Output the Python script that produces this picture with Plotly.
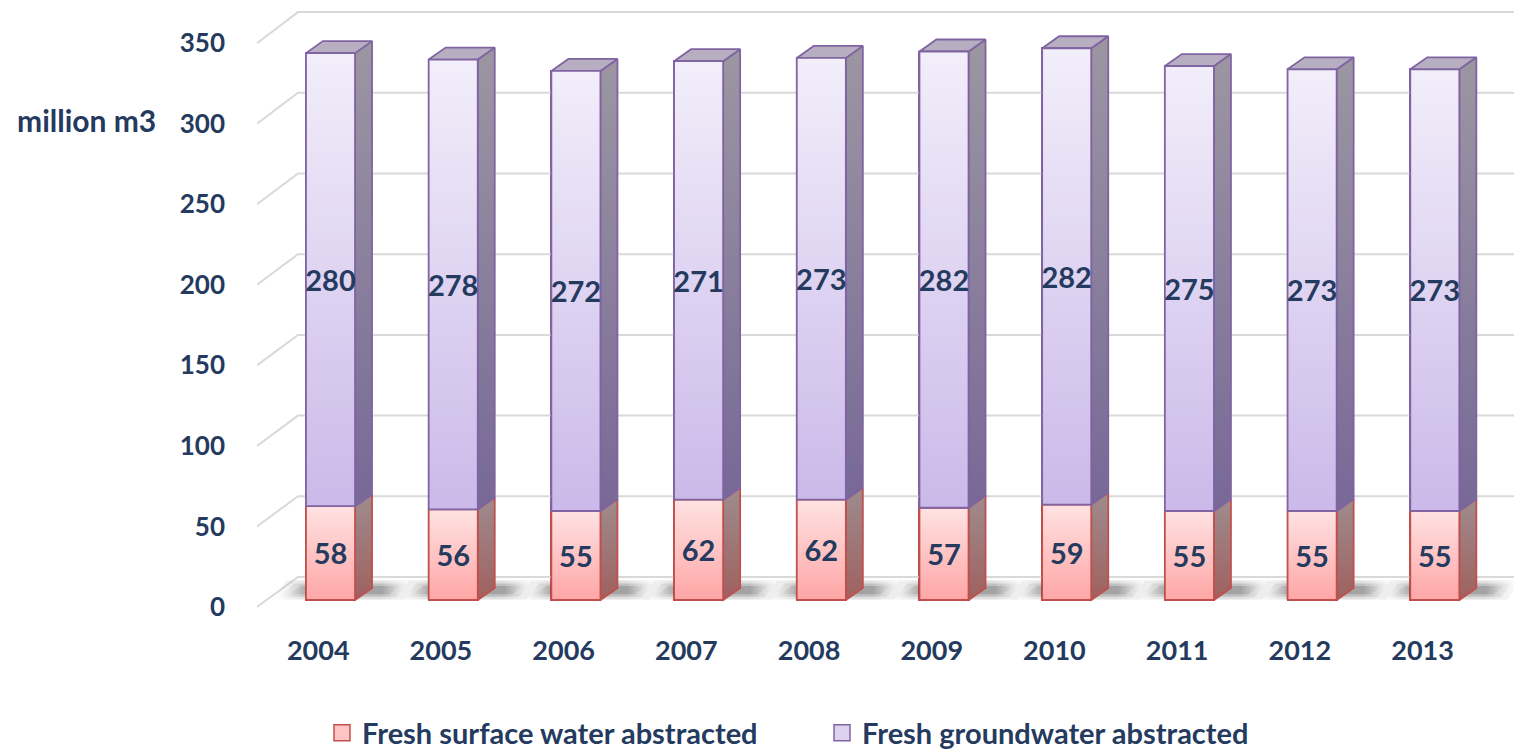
import plotly.graph_objects as go

# ---------------- data ----------------
years = ["2004", "2005", "2006", "2007", "2008", "2009", "2010", "2011", "2012", "2013"]
surface = [58, 56, 55, 62, 62, 57, 59, 55, 55, 55]
ground = [280, 278, 272, 271, 273, 282, 282, 275, 273, 273]
y_ticks = [0, 50, 100, 150, 200, 250, 300, 350]
series_names = ["Fresh surface water abstracted", "Fresh groundwater abstracted"]
unit_label = "million m3"

# ---------------- style ----------------
NAVY = "#243a5e"
FONT = "Lato"
PAGE_OFF = 8                 # page body margin of the browser
SCR_W, SCR_H = 1522, 751
W, H = SCR_W - PAGE_OFF, SCR_H - PAGE_OFF
# plot area in screen pixels
PL, PR, PT, PB = 257, 1522, 8, 621
PX_PER_CAT = 122.7           # pixel distance between categories
X0_PX = 330.5                # screen pixel centre of first category
S = 1.618                    # px per unit on the bar plane
ZERO_PX = 600                # screen pixel of value 0 on the bar plane
S_WALL_F, ZERO_WALL_F = 1.611, 607   # front edge of wall grid
S_WALL_B, ZERO_WALL_B = 1.614, 577   # back wall
BAR_W = 0.4
DX = 17 / PX_PER_CAT         # depth offset (x)
DY = 12 / S                  # depth offset (y)
LABEL_SHIFT = 4 / S          # small downward nudge of the value labels

plot_h = PB - PT
plot_w = PR - PL
ymin = -(PB - ZERO_PX) / S
ymax = (ZERO_PX - PT) / S
xmin = (PL - X0_PX) / PX_PER_CAT
xmax = (PR - X0_PX) / PX_PER_CAT


def plane(v, s, z):
    """convert a value on another depth plane into main y-axis units"""
    return (ZERO_PX - (z - s * v)) / S


styles = [
    dict(line="#c0504d", front=("#ffa6a6", "#ffe2e2"), side=("#a0605f", "#9e8c8e"),
         top="#c7a0a0", legend="#ffc4c4"),
    dict(line="#8064a2", front=("#cbb9e9", "#f2eefa"), side=("#776897", "#9c96a2"),
         top="#b7aec2", legend="#ddd2f0"),
]

n = len(years)
xs = list(range(n))
fig = go.Figure()

# back wall grid lines
for v in y_ticks:
    yf = plane(v, S_WALL_F, ZERO_WALL_F)
    yb = plane(v, S_WALL_B, ZERO_WALL_B)
    fig.add_trace(go.Scatter(
        x=[xmin, xmin + 41 / PX_PER_CAT, xmax], y=[yf, yb, yb], mode="lines",
        line=dict(color="#d9d9d9", width=2), hoverinfo="skip", showlegend=False,
        cliponaxis=False))

# floor shadows: soft band behind each bar, built from stacked translucent layers
shadow_layers = [(0.3, 12.0, 0.16, 0.26), (2.0, 10.2, 0.18, 0.2), (3.6, 8.6, 0.2, 0.14)]
for i in xs:
    for y0, y1, alpha, ext in shadow_layers:
        l = i - BAR_W / 2 - ext
        r = i + BAR_W / 2 + DX + ext
        span = r - l
        a = (i - BAR_W / 2 - l) / span
        b_ = (i + BAR_W / 2 + DX - l) / span
        fig.add_trace(go.Scatter(
            x=[l, r, r + DX * 0.7, l + DX * 0.7, l], y=[y0, y0, y1, y1, y0],
            mode="lines", line=dict(width=0), fill="toself",
            fillgradient=dict(type="horizontal", colorscale=[
                [0, "rgba(60,60,60,0)"], [a, f"rgba(50,50,50,{alpha})"],
                [b_, f"rgba(50,50,50,{alpha})"], [1, "rgba(60,60,60,0)"]]),
            hoverinfo="skip", showlegend=False))

# base bars
for k, vals in enumerate([surface, ground]):
    st = styles[k]
    fig.add_trace(go.Bar(
        x=xs, y=vals, name=series_names[k], width=BAR_W, showlegend=False,
        marker=dict(color=st["legend"], line=dict(color=st["line"], width=2)),
        hoverinfo="skip"))

# 3D faces
bases = [[0] * n, surface]
for k, vals in enumerate([surface, ground]):
    st = styles[k]
    for i in xs:
        b = bases[k][i]
        t = b + vals[i]
        xl, xr = i - BAR_W / 2, i + BAR_W / 2
        # side face
        fig.add_trace(go.Scatter(
            x=[xr, xr + DX, xr + DX, xr, xr], y=[b, b + DY, t + DY, t, b],
            mode="lines", line=dict(color=st["line"], width=1.8), fill="toself",
            fillgradient=dict(type="vertical", colorscale=[[0, st["side"][0]], [1, st["side"][1]]]),
            hoverinfo="skip", showlegend=False))
        # top face (top segment only)
        if k == 1:
            fig.add_trace(go.Scatter(
                x=[xl, xl + DX, xr + DX, xr, xl], y=[t, t + DY, t + DY, t, t],
                mode="lines", line=dict(color=st["line"], width=1.8), fill="toself",
                fillcolor=st["top"], hoverinfo="skip", showlegend=False))
        # front face
        fig.add_trace(go.Scatter(
            x=[xl, xr, xr, xl, xl], y=[b, b, t, t, b],
            mode="lines", line=dict(color=st["line"], width=1.8), fill="toself",
            fillgradient=dict(type="vertical", colorscale=[[0, st["front"][0]], [1, st["front"][1]]]),
            hoverinfo="skip", showlegend=False))

# data labels
for k, vals in enumerate([surface, ground]):
    fig.add_trace(go.Scatter(
        x=xs, y=[bases[k][i] + vals[i] / 2 - LABEL_SHIFT for i in xs],
        text=[str(v) for v in vals],
        mode="text", textposition="middle center",
        textfont=dict(family=FONT, size=29, color=NAVY, weight="bold"),
        hoverinfo="skip", showlegend=False, cliponaxis=False))

# legend entries (square swatches)
for k in range(2):
    st = styles[k]
    fig.add_trace(go.Scatter(
        x=[None], y=[None], mode="markers", name=series_names[k],
        marker=dict(symbol="square", size=20, color=st["legend"],
                    line=dict(color=st["line"], width=1.5)),
        showlegend=True))

fig.update_layout(
    width=W, height=H,
    margin=dict(l=PL - PAGE_OFF, r=SCR_W - PR, t=PT - PAGE_OFF, b=SCR_H - PB, pad=0,
                autoexpand=False),
    plot_bgcolor="white", paper_bgcolor="white", barmode="stack",
    font=dict(family=FONT, color=NAVY),
    xaxis=dict(range=[xmin, xmax], tickvals=[i - 0.1 for i in xs], ticktext=years,
               showgrid=False, zeroline=False, showline=False, ticks="",
               automargin=False,
               tickfont=dict(family=FONT, size=27, color=NAVY, weight="bold"),
               ticklabelstandoff=11),
    yaxis=dict(range=[ymin, ymax], showgrid=False, zeroline=False, showline=False,
               tickvals=[plane(v, S_WALL_F, ZERO_WALL_F) for v in y_ticks],
               ticktext=[str(v) for v in y_ticks], ticks="", automargin=False,
               tickfont=dict(family=FONT, size=26, color=NAVY, weight="bold"),
               ticklabelstandoff=31),
    legend=dict(orientation="h", x=(822 - PL) / plot_w, xanchor="center",
                y=(PB - 733) / plot_h, yanchor="middle",
                font=dict(family=FONT, size=29, color=NAVY, weight="bold"),
                entrywidth=455, traceorder="normal", bgcolor="rgba(0,0,0,0)"),
    annotations=[dict(text=unit_label, xref="paper", yref="paper",
                      x=(15 - PL) / plot_w, xanchor="left",
                      y=(PB - 120) / plot_h, yanchor="middle", showarrow=False,
                      font=dict(family=FONT, size=30, color=NAVY, weight="bold"))],
)

fig.write_html("out.html")
